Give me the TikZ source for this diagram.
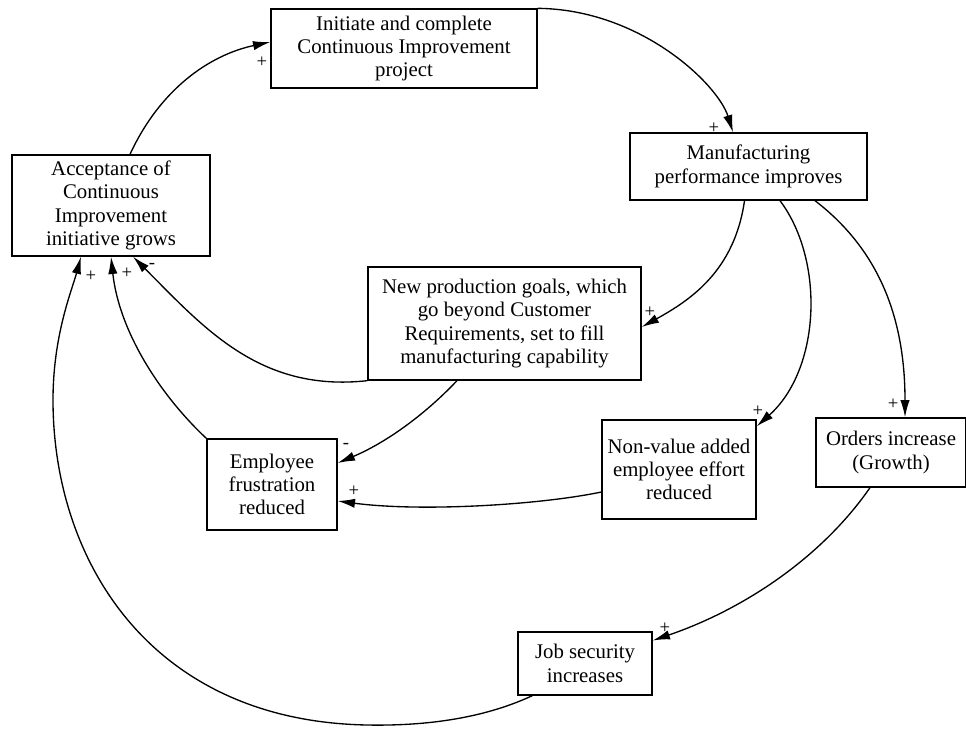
\documentclass[tikz,border=0pt]{standalone}
\usepackage{fontspec}
\setmainfont{Liberation Serif}
\usetikzlibrary{arrows.meta}

\tikzset{
  box/.style={draw, line width=1pt, align=center, inner sep=0pt,
    font=\fontsize{15.6}{17.5}\selectfont},
  link/.style={line width=1pt, -{Latex[length=13pt,width=7pt]}},
  sign/.style={inner sep=0pt, font=\fontsize{14}{14}\selectfont}
}

\begin{document}
\begin{tikzpicture}[x=0.75pt,y=-0.75pt]
        \useasboundingbox (0,0) rectangle (966,728);

        % 方框
        \node[box, minimum width=199.5pt, minimum height=59.25pt] (init) at (404,48.5)
          {Initiate and complete\\Continuous Improvement\\project};
        \node[box, minimum width=148.5pt, minimum height=75.75pt] (accept) at (111,205.5)
          {Acceptance of\\Continuous\\Improvement\\initiative grows};
        \node[box, minimum width=177.75pt, minimum height=50.25pt] (manuf) at (748.5,166.5)
          {Manufacturing\\performance improves};
        \node[box, minimum width=204.75pt, minimum height=84.75pt] (goals) at (504.5,323.5)
          {New production goals, which\\go beyond Customer\\Requirements, set to fill\\manufacturing capability};
        \node[box, minimum width=97.5pt, minimum height=68.25pt] (frust) at (272,484.5)
          {Employee\\frustration\\reduced};
        \node[box, minimum width=115.5pt, minimum height=74.25pt] (nonval) at (679,469.5)
          {Non-value added\\employee effort\\reduced};
        \node[box, minimum width=112.5pt, minimum height=51.75pt] (orders) at (891,452.5)
          {Orders increase\\(Growth)};
        \node[box, minimum width=100.5pt, minimum height=47.25pt] (jobsec) at (585,663.5)
          {Job security\\increases};

        % 箭头
        \draw[link] ([shift={(19,0)}]accept.north) .. controls +(30,-65) and +(-61,13) .. ([shift={(0,-6.5)}]init.west);
        \draw[link] (init.north east) .. controls +(103,1) and +(-15,-48) .. ([shift={(-15.5,0)}]manuf.north);
        \draw[link] ([shift={(-4,0)}]manuf.south) .. controls +(-10,70) and +(49,-27) .. ([shift={(0,3.5)}]goals.east);
        \draw[link] ([shift={(31.5,0)}]manuf.south) .. controls +(45,60) and +(64,-57) .. ([shift={(0,7)}]nonval.north east);
        \draw[link] ([shift={(66.5,0)}]manuf.south) .. controls +(65,50) and +(0,-98) .. ([shift={(14,0)}]orders.north);
        \draw[link] ([shift={(-47.5,0)}]goals.south) .. controls +(-37,39) and +(43,-18) .. ([shift={(0,-21.5)}]frust.east);
        \draw[link] ([shift={(0,22.5)}]nonval.west) .. controls +(-62,13) and +(83,11) .. ([shift={(0,16.5)}]frust.east);
        \draw[link] (frust.north west) .. controls +(-47,-44) and +(8,74) .. (accept.south);
        \draw[link] (goals.south west) .. controls +(-108,12) and +(70,70) .. ([shift={(22,0)}]accept.south);
        \draw[link] ([shift={(-21,0)}]orders.south) .. controls +(-50,72) and +(88,-30) .. ([shift={(0,-23)}]jobsec.east);
        \draw[link] ([shift={(15,0)}]jobsec.south west) .. controls (480,720) and (420,726) .. (367,725)
          .. controls (150,721) and (53,560) .. (53,400)
          .. controls (53,335) and (72,290) .. ([shift={(-30,0)}]accept.south);

        % 符号
        \node[sign] (s1) at (262,62) {+};
        \node[sign] (s2) at (714,128) {+};
        \node[sign] (s3) at (650,312) {+};
        \node[sign] (s4) at (758,411) {+};
        \node[sign] (s5) at (893,404) {+};
        \node[sign] (s6) at (346,446) {-};
        \node[sign] (s7) at (354,491) {+};
        \node[sign] (s8) at (127,273) {+};
        \node[sign] (s9) at (152,266) {-};
        \node[sign] (s10) at (665,628) {+};
        \node[sign] (s11) at (91,276) {+};
\end{tikzpicture}
\end{document}
